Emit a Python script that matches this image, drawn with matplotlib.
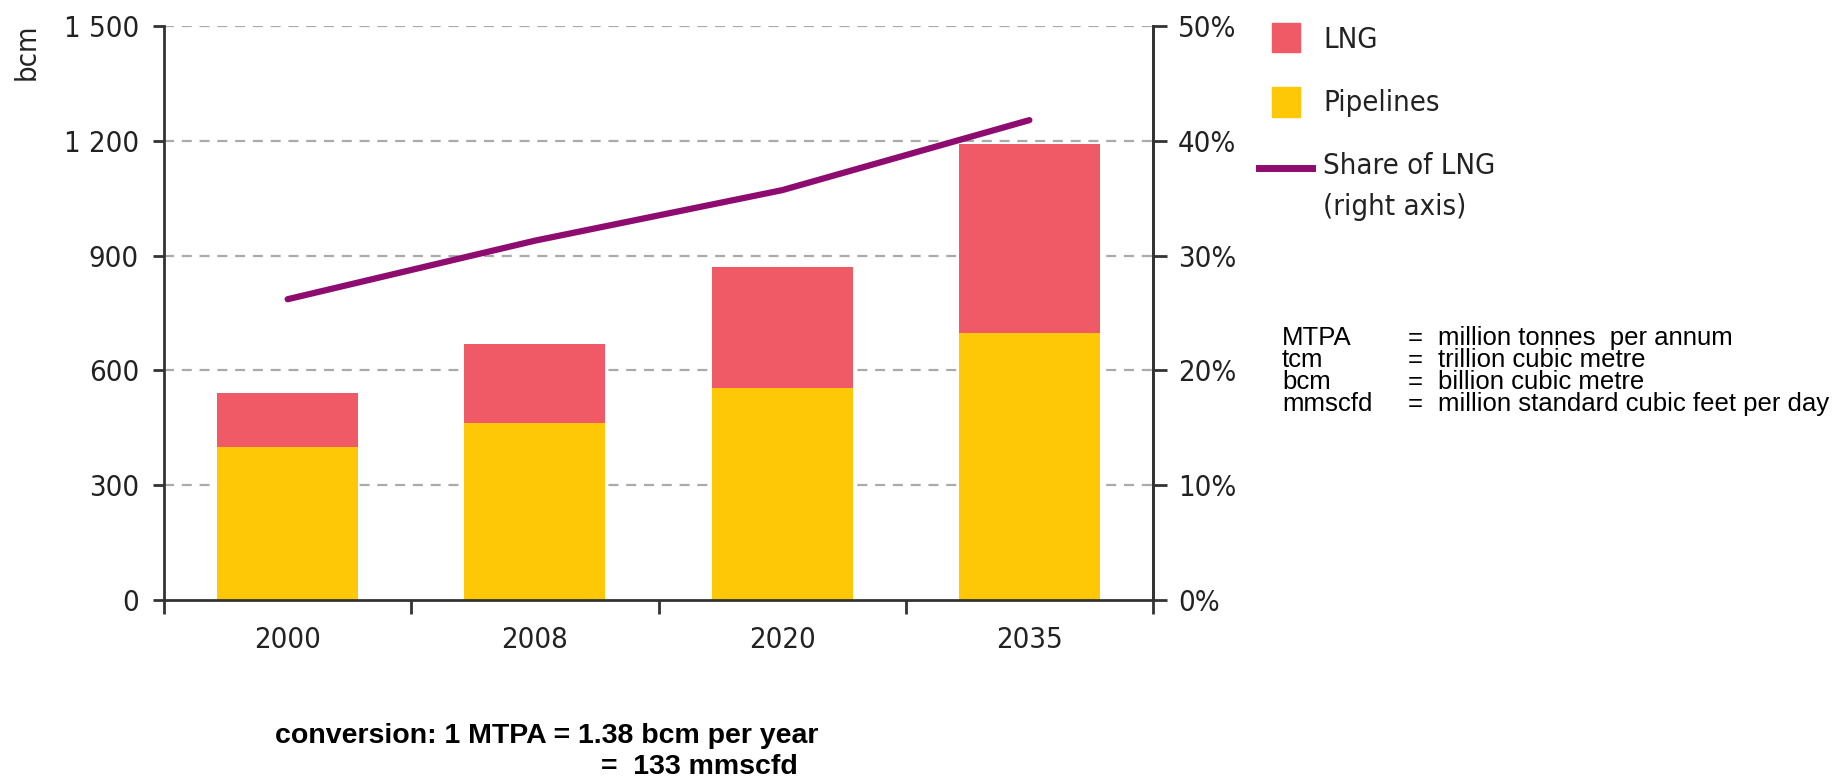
import matplotlib
matplotlib.use("Agg")
import matplotlib.pyplot as plt
from matplotlib.patches import Rectangle
from matplotlib.lines import Line2D
import numpy as np

years = ["2000", "2008", "2020", "2035"]
pipelines = [400, 463, 555, 697]
lng = [140, 207, 315, 494]
share_lng = [26.2, 31.3, 35.7, 41.8]
left_ticks = [0, 300, 600, 900, 1200, 1500]
left_labels = ["0", "300", "600", "900", "1 200", "1 500"]
right_ticks = [0, 10, 20, 30, 40, 50]
right_labels = ["0%", "10%", "20%", "30%", "40%", "50%"]

C_LNG = "#F05A66"
C_PIPE = "#FEC806"
C_LINE = "#8E0B70"
C_AX = "#333333"
C_TXT = "#222222"

W, H = 1849, 779
fig = plt.figure(figsize=(W / 100, H / 100), dpi=100)
CF = ["DejaVu Sans"]
cond = dict(family=CF, stretch="condensed")
FS = 21

def fx(px):
    return px / W

def fy(py):
    return 1 - py / H

ax = fig.add_axes([fx(164), fy(600), fx(1153) - fx(164), fy(26) - fy(600)])
x = np.arange(len(years))
ax.bar(x, pipelines, width=0.57, color=C_PIPE, zorder=2)
ax.bar(x, lng, bottom=pipelines, width=0.57, color=C_LNG, zorder=2)
ax.set_xlim(-0.5, len(years) - 0.5)
ax.set_ylim(0, 1500)
ax.set_yticks(left_ticks)
ax.set_yticklabels(left_labels, fontsize=FS, color=C_TXT, **cond)
for t in left_ticks[1:]:
    ax.axhline(t, color="#AAAAAA", lw=1.6, dashes=(4.5, 3.5), zorder=1)
ax.set_xticks(x)
ax.set_xticklabels(years, fontsize=FS, color=C_TXT, **cond)
ax.tick_params(axis="x", which="major", length=0, pad=19)
ax.set_xticks(np.arange(-0.5, len(years)), minor=True)
ax.tick_params(axis="x", which="minor", length=10, width=2, color=C_AX, direction="out")
ax.tick_params(axis="y", length=8, width=2, color=C_AX, direction="out", pad=10)
ax.spines["top"].set_visible(False)
for s in ["left", "right", "bottom"]:
    ax.spines[s].set_color(C_AX)
    ax.spines[s].set_linewidth(2)
fig.text(fx(27), fy(52), "bcm", rotation=90, ha="center", va="center",
         fontsize=FS, color=C_TXT, **cond)

ax2 = ax.twinx()
ax2.plot(x, share_lng, color=C_LINE, lw=4.5, solid_capstyle="round", zorder=3)
ax2.set_ylim(0, 50)
ax2.set_yticks(right_ticks)
ax2.set_yticklabels(right_labels, fontsize=FS, color=C_TXT, **cond)
ax2.tick_params(axis="y", length=10, width=2, color=C_AX, direction="out", pad=8)
for s in ["top", "left", "bottom"]:
    ax2.spines[s].set_visible(False)
ax2.spines["right"].set_color(C_AX)
ax2.spines["right"].set_linewidth(2)

# legend
fig.add_artist(Rectangle((fx(1272), fy(52)), fx(28), fy(23) - fy(52), color=C_LNG, transform=fig.transFigure))
fig.add_artist(Rectangle((fx(1272), fy(117)), fx(28), fy(87) - fy(117), color=C_PIPE, transform=fig.transFigure))
fig.add_artist(Line2D([fx(1259), fx(1312)], [fy(168), fy(168)], color=C_LINE, lw=5, transform=fig.transFigure))
fig.text(fx(1323), fy(40), "LNG", ha="left", va="center", fontsize=FS, color=C_TXT, **cond)
fig.text(fx(1323), fy(103), "Pipelines", ha="left", va="center", fontsize=FS, color=C_TXT, **cond)
fig.text(fx(1323), fy(166), "Share of LNG", ha="left", va="center", fontsize=FS, color=C_TXT, **cond)
fig.text(fx(1323), fy(207), "(right axis)", ha="left", va="center", fontsize=FS, color=C_TXT, **cond)

# definitions
AR = ["Liberation Sans", "DejaVu Sans"]
abbr = ["MTPA", "tcm", "bcm", "mmscfd"]
defs = ["million tonnes  per annum", "trillion cubic metre", "billion cubic metre",
        "million standard cubic feet per day"]
bases = [345, 367, 389, 411]
for a, d, b in zip(abbr, defs, bases):
    fig.text(fx(1282), fy(b), a, ha="left", va="baseline", fontsize=18.5, family=AR)
    fig.text(fx(1408), fy(b), "=", ha="left", va="baseline", fontsize=18.5, family=AR)
    fig.text(fx(1438), fy(b), d, ha="left", va="baseline", fontsize=18.5, family=AR)

fig.text(fx(275), fy(743), "conversion: 1 MTPA = 1.38 bcm per year", ha="left", va="baseline",
         fontsize=20.5, fontweight="bold", family=AR)
fig.text(fx(601), fy(774), "=  133 mmscfd", ha="left", va="baseline",
         fontsize=20.5, fontweight="bold", family=AR)

fig.savefig("out.png", dpi=100)
